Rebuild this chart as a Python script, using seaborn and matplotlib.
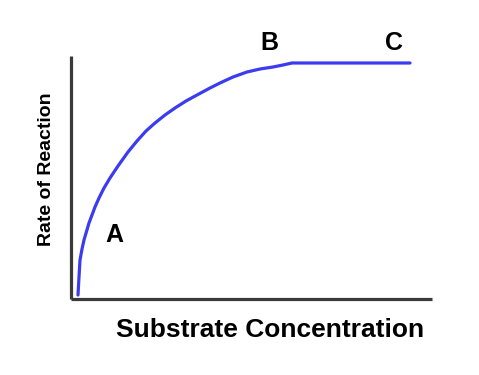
import matplotlib
matplotlib.use("Agg")
import matplotlib.pyplot as plt
import seaborn as sns
import pandas as pd

# Data (arbitrary units)
substrate = [0, 1, 2, 4, 6, 11, 17, 21, 26, 32, 40, 50, 59, 68, 77, 87, 97,
             108, 119, 132, 142, 155, 169, 182, 195, 205, 214, 332]
rate = [1, 19, 36, 47, 56, 73, 89, 98, 108, 118, 130, 144, 155, 165, 173, 181,
        188, 195, 201, 208, 213, 219, 224, 227, 229, 231, 233, 233]
point_labels = ["A", "B", "C"]
point_x = [36, 191, 316]
point_y = [54, 246, 246]

sns.set_theme(style="white")
plt.rcParams['font.family'] = ['Liberation Sans', 'DejaVu Sans']

W, H = 479, 375
fig = plt.figure(figsize=(W / 100, H / 100), dpi=100)
ax = fig.add_axes([71 / W, 1 - 299 / H, (432 - 71) / W, (299 - 56) / H])

df = pd.DataFrame({"Substrate": substrate, "Rate": rate})
sns.lineplot(data=df, x="Substrate", y="Rate", ax=ax, color="#3b3bf0",
             linewidth=2.3, sort=False)

ax.set_xlim(-7, 354)
ax.set_ylim(-3, 240)
ax.set_xticks([])
ax.set_yticks([])
ax.set_xlabel("")
ax.set_ylabel("")
for s in ["top", "right"]:
    ax.spines[s].set_visible(False)
for s in ["left", "bottom"]:
    ax.spines[s].set_color("#3a3a3a")
    ax.spines[s].set_linewidth(2.3)
    ax.spines[s].set_capstyle("butt")

for lab, x, y in zip(point_labels, point_x, point_y):
    ax.text(x, y, lab, ha="center", va="baseline", fontsize=18,
            fontweight="bold", color="black", clip_on=False)

fig.text(270 / W, 1 - 337 / H, "Substrate Concentration", ha="center",
         va="baseline", fontsize=19, fontweight="bold", color="black")
fig.text(47 / W, 1 - 169 / H, "Rate of Reaction", ha="center", va="center",
         rotation=90, fontsize=14, fontweight="bold", color="black")

fig.savefig("out.png", dpi=100)
